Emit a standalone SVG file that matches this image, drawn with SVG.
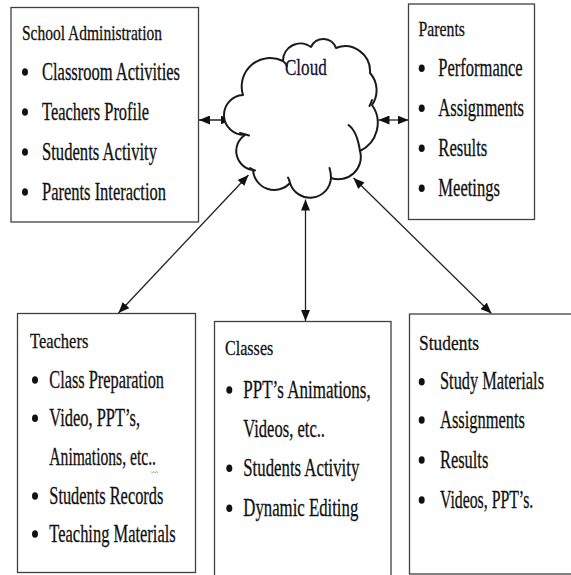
<svg xmlns="http://www.w3.org/2000/svg" width="571" height="575" viewBox="0 0 571 575">
<style>
  .box { fill: #ffffff; stroke: #404040; stroke-width: 1.3; }
  .t { fill: #111111; stroke: #111111; stroke-width: 0.3; }
  .title { font-size: 22px; }
  .item { font-size: 24.5px; }
  .bul { fill: #111111; }
  .conn { stroke: #222222; stroke-width: 1.3; fill: none; marker-start: url(#ah); marker-end: url(#ah); }
  .cloud { fill: #ffffff; stroke: #1a1a1a; stroke-width: 2; stroke-linejoin: round; }
  .inner { fill: none; stroke: #1a1a1a; stroke-width: 2; stroke-linecap: round; }
</style>
<defs>
  <marker id="ah" viewBox="0 0 11 9" refX="11" refY="4.5" markerUnits="userSpaceOnUse" markerWidth="11" markerHeight="9" orient="auto-start-reverse">
    <path d="M0,0 L11,4.5 L0,9 z" fill="#111111"/>
  </marker>
</defs>
<rect width="571" height="575" fill="#ffffff"/>

<g id="connectors">
  <line class="conn" x1="199" y1="120" x2="231.5" y2="120"/>
  <line class="conn" x1="378.5" y1="120" x2="408.5" y2="120"/>
  <line class="conn" x1="305.5" y1="199.5" x2="305.5" y2="321"/>
  <line class="conn" x1="248.5" y1="175" x2="118.5" y2="313"/>
  <line class="conn" x1="353.5" y1="178" x2="491.5" y2="313.5"/>
</g>

<g font-family="'Liberation Serif', 'Times New Roman', 'DejaVu Serif', serif">
<g id="cloud">
  <path class="cloud" d="M245 135 A19 19 0 0 1 243 95 A28.5 28.5 0 0 1 283 61 A17.4 17.4 0 0 1 311 47 A13.4 13.4 0 0 1 336 48 A25 25 0 0 1 370 73 A26 26 0 0 1 372 105 A31 31 0 0 1 360 151 A22.3 22.3 0 0 1 331 178 A21 21 0 0 1 290 183 A21.3 21.3 0 0 1 253 170 A19.1 19.1 0 0 1 245 135 Z"/>
  <path class="inner" d="M240 133 Q245 134 249 135.5"/>
  <path class="inner" d="M250 168 Q252 169.5 255 170.5"/>
  <path class="inner" d="M288 177.5 Q289.5 180 290 183"/>
  <path class="inner" d="M329.5 168 Q331 173 331 178"/>
  <path class="inner" d="M348.5 125 Q357 131 360 151"/>
  <path class="inner" d="M369.5 106 Q371 103 372 100"/>
  <path class="inner" d="M283.5 61.5 Q285.5 63 287 66"/>
  <text x="285" y="75" font-size="24" textLength="41.7" lengthAdjust="spacingAndGlyphs" fill="#10103a" stroke="#10103a" stroke-width="0.3">Cloud</text>
</g>

<g id="school-administration">
  <rect class="box" x="11" y="7.5" width="187.5" height="214.5"/>
  <text class="t title" x="22" y="40" textLength="140" lengthAdjust="spacingAndGlyphs">School Administration</text>
  <ellipse class="bul" cx="25" cy="72" rx="3" ry="3.8"/>
  <text class="t item" x="42" y="79.5" textLength="138" lengthAdjust="spacingAndGlyphs">Classroom Activities</text>
  <ellipse class="bul" cx="25" cy="112" rx="3" ry="3.8"/>
  <text class="t item" x="42" y="119.5" textLength="107" lengthAdjust="spacingAndGlyphs">Teachers Profile</text>
  <ellipse class="bul" cx="25" cy="152" rx="3" ry="3.8"/>
  <text class="t item" x="42" y="159.5" textLength="115" lengthAdjust="spacingAndGlyphs">Students Activity</text>
  <ellipse class="bul" cx="25" cy="192" rx="3" ry="3.8"/>
  <text class="t item" x="42" y="199.5" textLength="124" lengthAdjust="spacingAndGlyphs">Parents Interaction</text>
</g>

<g id="parents">
  <rect class="box" x="408.5" y="4" width="126" height="215.5"/>
  <text class="t title" x="418.5" y="36" textLength="46.5" lengthAdjust="spacingAndGlyphs">Parents</text>
  <ellipse class="bul" cx="421.7" cy="68.3" rx="3" ry="3.8"/>
  <text class="t item" x="438.3" y="76" textLength="84.4" lengthAdjust="spacingAndGlyphs">Performance</text>
  <ellipse class="bul" cx="421.7" cy="108.3" rx="3" ry="3.8"/>
  <text class="t item" x="438.3" y="116" textLength="85.7" lengthAdjust="spacingAndGlyphs">Assignments</text>
  <ellipse class="bul" cx="421.7" cy="148.3" rx="3" ry="3.8"/>
  <text class="t item" x="438.3" y="156" textLength="49" lengthAdjust="spacingAndGlyphs">Results</text>
  <ellipse class="bul" cx="421.7" cy="188.3" rx="3" ry="3.8"/>
  <text class="t item" x="438.3" y="196" textLength="61.7" lengthAdjust="spacingAndGlyphs">Meetings</text>
</g>

<g id="teachers">
  <rect class="box" x="17.5" y="313.5" width="178" height="259"/>
  <text class="t title" x="30" y="348" textLength="58.3" lengthAdjust="spacingAndGlyphs">Teachers</text>
  <ellipse class="bul" cx="35" cy="380" rx="3" ry="3.8"/>
  <text class="t item" x="49.3" y="387.5" textLength="114.7" lengthAdjust="spacingAndGlyphs">Class Preparation</text>
  <ellipse class="bul" cx="35" cy="418.3" rx="3" ry="3.8"/>
  <text class="t item" x="49.3" y="426" textLength="90.7" lengthAdjust="spacingAndGlyphs">Video, PPT’s,</text>
  <text class="t item" x="49.3" y="465" textLength="106.7" lengthAdjust="spacingAndGlyphs">Animations, etc..</text>
  <path d="M151 471.5 l1.4 1.4 l1.4 -1.4 l1.4 1.4 l1.4 -1.4 l1.4 1.4" fill="none" stroke="#3aa83a" stroke-width="0.8"/>
  <ellipse class="bul" cx="35" cy="496" rx="3" ry="3.8"/>
  <text class="t item" x="49.3" y="503.5" textLength="114" lengthAdjust="spacingAndGlyphs">Students Records</text>
  <ellipse class="bul" cx="35" cy="534" rx="3" ry="3.8"/>
  <text class="t item" x="49.3" y="541.5" textLength="126.4" lengthAdjust="spacingAndGlyphs">Teaching Materials</text>
</g>

<g id="classes">
  <rect class="box" x="214.5" y="321.5" width="176.5" height="262"/>
  <text class="t title" x="225" y="355" textLength="48.3" lengthAdjust="spacingAndGlyphs">Classes</text>
  <ellipse class="bul" cx="229.3" cy="390" rx="3" ry="3.8"/>
  <text class="t item" x="243.3" y="397.5" textLength="127.4" lengthAdjust="spacingAndGlyphs">PPT’s Animations,</text>
  <text class="t item" x="243.3" y="436.7" textLength="81.7" lengthAdjust="spacingAndGlyphs">Videos, etc..</text>
  <ellipse class="bul" cx="229.3" cy="468.3" rx="3" ry="3.8"/>
  <text class="t item" x="243.3" y="475.8" textLength="116" lengthAdjust="spacingAndGlyphs">Students Activity</text>
  <ellipse class="bul" cx="229.3" cy="508.3" rx="3" ry="3.8"/>
  <text class="t item" x="243.3" y="515.8" textLength="115" lengthAdjust="spacingAndGlyphs">Dynamic Editing</text>
</g>

<g id="students">
  <rect class="box" x="409.5" y="314" width="162.5" height="260"/>
  <text class="t title" x="419" y="350" textLength="60" lengthAdjust="spacingAndGlyphs">Students</text>
  <ellipse class="bul" cx="421.7" cy="381.7" rx="3" ry="3.8"/>
  <text class="t item" transform="translate(440 389) scale(0.7 1)" x="0" y="0" textLength="148.6" lengthAdjust="spacingAndGlyphs">Study Materials</text>
  <ellipse class="bul" cx="421.7" cy="420" rx="3" ry="3.8"/>
  <text class="t item" x="440" y="427.5" textLength="85" lengthAdjust="spacingAndGlyphs">Assignments</text>
  <ellipse class="bul" cx="421.7" cy="460" rx="3" ry="3.8"/>
  <text class="t item" x="440" y="467.5" textLength="48.3" lengthAdjust="spacingAndGlyphs">Results</text>
  <ellipse class="bul" cx="421.7" cy="500" rx="3" ry="3.8"/>
  <text class="t item" transform="translate(440 507.5) scale(0.7 1)" x="0" y="0" textLength="133.3" lengthAdjust="spacingAndGlyphs">Videos, PPT’s.</text>
</g>
</g>
</svg>
